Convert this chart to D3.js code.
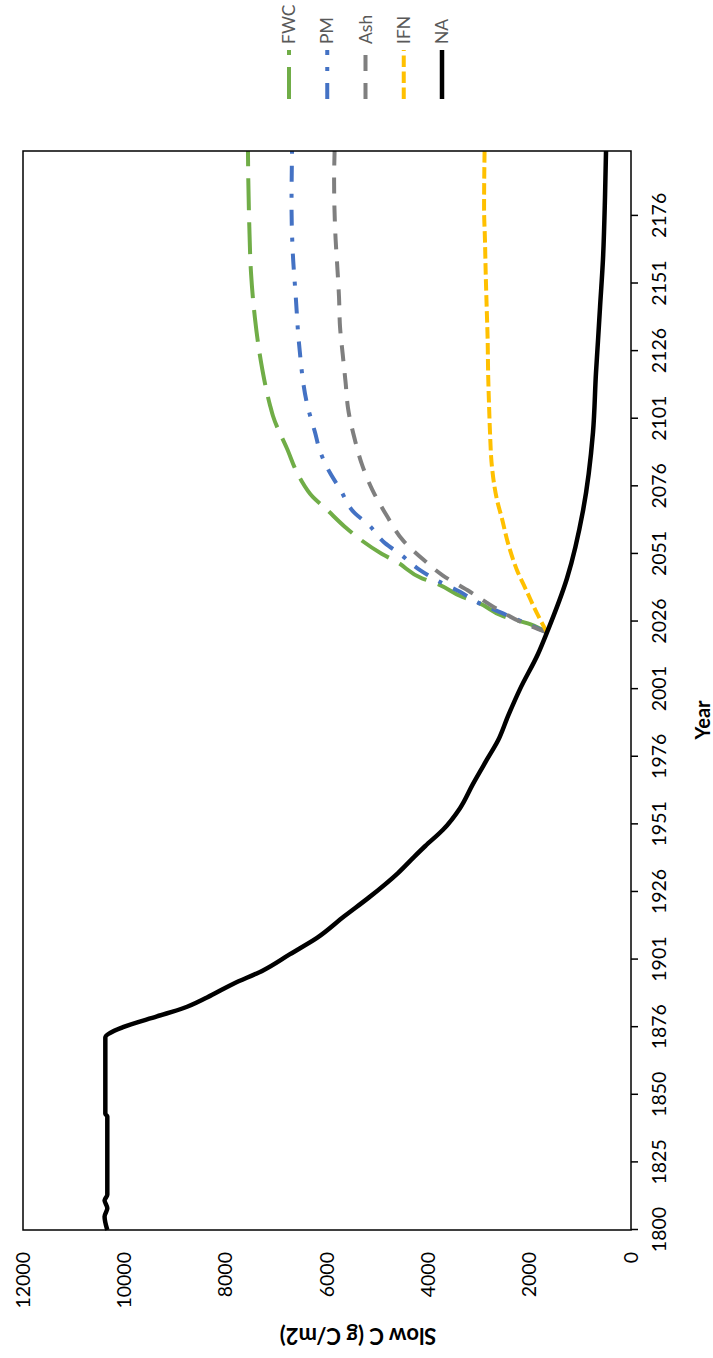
<!DOCTYPE html>
<html><head><meta charset="utf-8">
<script src="https://cdn.jsdelivr.net/npm/d3@7/dist/d3.min.js"></script>
<style>body{margin:0;background:#fff}svg{display:block}</style>
</head><body>
<svg id="chart" width="713" height="1358"></svg>
<script>
// ---- data ----
const tickYears = [1800,1825,1850,1876,1901,1926,1951,1976,2001,2026,2051,2076,2101,2126,2151,2176];
const valueTicks = [0,2000,4000,6000,8000,10000,12000];
// category axis: one year missing between 1850 and 1876
const catYears = [1800,1850,1876,2200];
const catIndex = [0,50,75,399];

const seriesNames = ["FWC","PM","Ash","IFN","NA"];

const naYears  = [1800,1805,1808,1811,1813,1842,1843,1872,1876,1880,1883,1887,1892,1897,1903,1909,1917,1924,1933,1939,1943,1949,1957,1966,1975,1982,1991,2001,2014,2022,2042,2067,2096,2118,2130,2142,2160,2183,2200];
const naValues = [10336,10390,10336,10390,10336,10336,10375,10375,10026,9355,8842,8368,7855,7263,6730,6197,5660,5170,4599,4280,4060,3711,3375,3118,2842,2625,2428,2191,1836,1658,1263,947,750,691,651,612,553,513,493];

const fwcYears  = [2022,2025,2028,2033,2035,2040,2042,2048,2051,2057,2061,2068,2072,2079,2090,2102,2106,2122,2138,2155,2172,2189,2200];
const fwcValues = [1658,1993,2526,3020,3316,3829,4125,4618,4914,5388,5645,6039,6276,6533,6790,7066,7125,7303,7421,7500,7533,7553,7560];

const pmYears  = [2022,2029,2033,2037,2041,2045,2051,2055,2062,2066,2075,2081,2089,2096,2105,2129,2146,2163,2180,2200];
const pmValues = [1658,2526,3020,3375,3809,4164,4559,4855,5191,5447,5743,5941,6138,6237,6375,6553,6616,6677,6700,6690];

const ashYears  = [2022,2026,2030,2037,2043,2049,2056,2065,2075,2084,2093,2105,2114,2125,2135,2146,2157,2167,2189,2200];
const ashValues = [1658,2191,2586,3178,3711,4105,4500,4816,5112,5309,5447,5586,5631,5691,5743,5763,5796,5829,5860,5850];

const ifnYears  = [2022,2029,2037,2045,2055,2064,2071,2083,2096,2105,2118,2130,2142,2155,2167,2179,2200];
const ifnValues = [1658,1855,2053,2250,2428,2546,2645,2743,2783,2800,2820,2829,2848,2868,2882,2900,2890];

// ---- layout (drawn unrotated, then the whole chart is turned 90° counter-clockwise) ----
const W = 1358, H = 713;
const plot = {left:128, right:1207, top:23, bottom:631};
const FONT = "Lato, Carlito, Calibri, sans-serif";
const TICK_FS = 19.5;

const svg = d3.select("#chart");
svg.append("rect").attr("width",713).attr("height",1358).attr("fill","#fff");
const g = svg.append("g").attr("transform",`translate(0,${W}) rotate(-90)`);

const unit = (plot.right - plot.left) / catIndex[catIndex.length-1];
const x = d3.scaleLinear().domain(catYears).range(catIndex.map(i => plot.left + i*unit));
const y = d3.scaleLinear().domain([0,12000]).range([plot.bottom, plot.top]);

// axes
const xAxis = g.append("g").attr("transform",`translate(0,${plot.bottom})`)
  .call(d3.axisBottom(x).tickValues(tickYears).tickFormat(d3.format("d")).tickSize(7).tickSizeOuter(0).tickPadding(14));
xAxis.select(".domain").remove();
xAxis.selectAll(".tick line").attr("stroke","#000").attr("stroke-width",1.5);
xAxis.selectAll("text").attr("font-family",FONT).attr("font-size",TICK_FS).attr("fill","#000");

const yAxis = g.append("g").attr("transform",`translate(${plot.left},0)`)
  .call(d3.axisLeft(y).tickValues(valueTicks).tickFormat(d3.format("d")).tickSize(0).tickPadding(22));
yAxis.select(".domain").remove();
yAxis.selectAll("text").attr("font-family",FONT).attr("font-size",TICK_FS).attr("fill","#000");

// series
const series = [
  {name:"FWC", years:fwcYears, values:fwcValues, color:"#70AD47", width:4,   dash:"32,12"},
  {name:"PM",  years:pmYears,  values:pmValues,  color:"#4472C4", width:4,   dash:"16,12,4,12"},
  {name:"Ash", years:ashYears, values:ashValues, color:"#7F7F7F", width:4,   dash:"16,12"},
  {name:"IFN", years:ifnYears, values:ifnValues, color:"#FFC000", width:4,   dash:"11.5,4.5"},
  {name:"NA",  years:naYears,  values:naValues,  color:"#000000", width:4.5, dash:null}
];
const line = d3.line().x(d => x(d[0])).y(d => y(d[1])).curve(d3.curveMonotoneX);
series.forEach(s => {
  const pts = s.years.map((yr,i) => [yr, s.values[i]]);
  g.append("path").datum(pts).attr("d",line)
    .attr("fill","none").attr("stroke",s.color).attr("stroke-width",s.width)
    .attr("stroke-linejoin","round")
    .attr("stroke-dasharray",s.dash);
});

// plot frame
g.append("rect").attr("x",plot.left).attr("y",plot.top)
  .attr("width",plot.right-plot.left).attr("height",plot.bottom-plot.top)
  .attr("fill","none").attr("stroke","#000").attr("stroke-width",1.5);

// axis titles
g.append("text").attr("transform",`translate(22,358) rotate(-90)`)
  .attr("text-anchor","middle").attr("dy","0.35em")
  .attr("font-family",FONT).attr("font-weight","bold").attr("font-size",22).attr("fill","#000")
  .text("Slow C (g C/m2)");
g.append("text").attr("x",638).attr("y",703).attr("dy","0.35em")
  .attr("text-anchor","middle")
  .attr("font-family",FONT).attr("font-weight","bold").attr("font-size",20).attr("fill","#000")
  .text("Year");

// legend
const legendY = d3.scalePoint().domain(seriesNames).range([289,442]);
series.forEach(s => {
  const ly = legendY(s.name);
  g.append("line").attr("x1",1259).attr("x2",1308).attr("y1",ly).attr("y2",ly)
    .attr("stroke",s.color).attr("stroke-width",s.width).attr("stroke-dasharray",s.dash);
  g.append("text").attr("x",1314).attr("y",ly).attr("dy","0.35em")
    .attr("font-family",FONT).attr("font-size",17.5).attr("fill","#595959")
    .text(s.name);
});
</script>
</body></html>
